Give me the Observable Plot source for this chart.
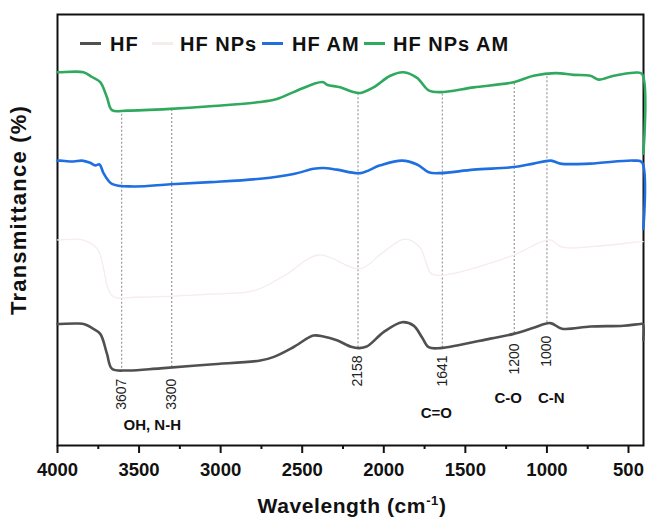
<!DOCTYPE html>
<html><head><meta charset="utf-8">
<script src="https://cdn.jsdelivr.net/npm/d3@7"></script>
<script src="https://cdn.jsdelivr.net/npm/@observablehq/plot@0.6"></script>
<style>body{margin:0;background:#fff;} #chart svg{display:block;}</style>
</head><body><div id="chart"></div>
<script>
// FTIR spectra: [wavenumber (cm-1), transmittance (a.u., offset)]
const hf = [[4000,28.2],[3983,28.2],[3880,28.3],[3830,28.1],[3790,27.3],[3738,25.9],[3697,21.3],[3666,17.8],[3574,17.4],[3370,17.9],[3064,18.8],[2757,19.7],[2678,20.5],[2555,22.8],[2432,25.5],[2371,25.3],[2287,24.4],[2200,22.9],[2150,22.6],[2103,23.0],[2001,26.3],[1888,28.6],[1817,27.8],[1766,25.1],[1725,22.8],[1654,22.6],[1551,23.2],[1347,24.8],[1204,25.9],[1082,27.3],[979,28.4],[908,27.1],[734,27.6],[530,27.8],[428,28.2],[412,28.2],[409,24.5]];
const hfNPs = [[4000,47.7],[3983,47.7],[3846,47.7],[3754,45.5],[3662,34.7],[3524,34.4],[3064,35.1],[2789,36.0],[2606,39.5],[2399,44.2],[2147,41.0],[2009,44.7],[1871,47.9],[1779,46.0],[1710,39.9],[1641,39.5],[1228,43.8],[982,47.7],[906,46.0],[654,46.4],[424,47.3],[410,47.3]];
const hfAM = [[4000,66.1],[3983,66.1],[3902,65.9],[3850,66.1],[3800,65.6],[3769,65.0],[3742,65.2],[3718,63.2],[3666,60.7],[3534,60.1],[3309,60.6],[3064,61.1],[2757,61.9],[2553,63.0],[2430,64.2],[2371,64.4],[2287,64.0],[2144,63.2],[2022,65.0],[1888,66.1],[1796,65.2],[1725,63.4],[1654,63.2],[1449,64.0],[1204,64.6],[1082,65.4],[975,66.1],[918,65.4],[734,65.4],[468,66.1],[417,65.7],[409,50.3]];
const hfNPsAM = [[4000,86.6],[3983,86.6],[3841,86.6],[3789,85.5],[3738,84.3],[3697,80.8],[3666,77.8],[3574,77.7],[3309,78.1],[3064,78.7],[2757,79.7],[2655,80.4],[2553,82.0],[2430,83.9],[2371,84.3],[2348,83.7],[2267,83.1],[2187,82.0],[2144,81.8],[2063,83.1],[1960,85.8],[1879,86.6],[1796,85.3],[1725,82.4],[1654,82.0],[1449,83.1],[1204,84.3],[1082,85.8],[949,86.4],[836,86.0],[734,85.8],[683,84.9],[591,85.8],[468,86.5],[417,86.2],[409,67.7]];

const seriesNames = ["HF", "HF NPs", "HF AM", "HF NPs AM"];
const seriesColors = ["#505050", "#f6ecec", "#1f6fe0", "#2fa95d"];
const seriesData = [hf, hfNPs, hfAM, hfNPsAM];

// band annotations: wavenumber, dashed-line top / bottom, label top
const bandWaves = [3607, 3300, 2158, 1641, 1200, 1000];
const bandTop = [77.7, 78.2, 82.0, 81.9, 84.2, 85.6];
const bandBottom = [17.9, 18.1, 22.7, 22.6, 26.0, 28.5];
const bandLabelTop = [15.5, 15.5, 20.9, 20.9, 23.7, 25.5];

const groupNames = ["OH, N-H", "C=O", "C-O", "C-N"];
const groupWaves = [3419, 1678, 1237, 973];
const groupY = [4.6, 7.4, 10.9, 10.9];

const majorTicks = [4000, 3500, 3000, 2500, 2000, 1500, 1000, 500];
const minorTicks = [3750, 3250, 2750, 2250, 1750, 1250, 750];

const rows = seriesData.flatMap((s, i) => s.map(([w, t]) => ({w, t, series: seriesNames[i]})))
  .sort((a, b) => a.w - b.w);
const bands = bandWaves.map((w, i) => ({w, top: bandTop[i], bottom: bandBottom[i], lab: bandLabelTop[i], text: String(w)}));
const groups = groupNames.map((n, i) => ({n, w: groupWaves[i], y: groupY[i]}));

const W = 647, H = 523, mL = 57, mR = 4, mT = 14, mB = 78;
const font = "Liberation Sans, Arial, sans-serif";

const chart = Plot.plot({
  width: W, height: H,
  marginLeft: mL, marginRight: mR, marginTop: mT, marginBottom: mB,
  style: {fontFamily: font, background: "#fff", color: "#111"},
  x: {domain: [4000, 408]},
  y: {domain: [0, 100], axis: null},
  marks: [
    Plot.ruleX(bands, {x: "w", y1: "bottom", y2: "top", stroke: "#9a9a9a", strokeWidth: 1.2, strokeDasharray: "2,2"}),
    Plot.frame({stroke: "#111", strokeWidth: 2}),
    Plot.axisX({ticks: majorTicks, tickSize: 8, tickPadding: 9, fontSize: 18.5, fontWeight: "bold", tickFormat: d => String(d), label: null, strokeWidth: 2, stroke: "#111", fill: "#111"}),
    Plot.axisX({ticks: minorTicks, tickSize: 4, tickFormat: () => "", label: null, strokeWidth: 2, stroke: "#111"}),
    ...seriesData.map((s, i) => Plot.line(rows.filter(r => r.series === seriesNames[i]), {
      x: "w", y: "t", stroke: seriesColors[i], strokeWidth: i === 1 ? 1.3 : 2.6, curve: "catmull-rom"
    })),
    Plot.text(bands, {x: "w", y: "lab", text: "text", rotate: -90, textAnchor: "end", fontSize: 14, fill: "#222"}),
    Plot.text(groups, {x: "w", y: "y", text: "n", fontSize: 15, fontWeight: "bold", fill: "#111"})
  ]
});

const svg = d3.select(chart);
// y-axis title
svg.append("text")
  .attr("transform", "translate(26,210) rotate(-90)")
  .attr("text-anchor", "middle")
  .attr("font-family", font).attr("font-weight", "bold").attr("font-size", 22).attr("letter-spacing", 1.2).attr("fill", "#111")
  .text("Transmittance (%)");
// x-axis title
const xt = svg.append("text")
  .attr("x", 352).attr("y", 513)
  .attr("text-anchor", "middle")
  .attr("font-family", font).attr("font-weight", "bold").attr("font-size", 21).attr("letter-spacing", 0.6).attr("fill", "#111");
xt.append("tspan").text("Wavelength (cm");
xt.append("tspan").attr("font-size", 13).attr("dy", -8).text("-1");
xt.append("tspan").attr("dy", 8).text(")");
// legend inside the frame
const legX = [80, 152, 262, 364];
const legTx = [110, 180, 292, 393];
const lg = svg.append("g").attr("font-family", font).attr("font-weight", "bold").attr("font-size", 20).attr("fill", "#111").attr("text-anchor", "start");
seriesNames.forEach((n, i) => {
  lg.append("line").attr("x1", legX[i]).attr("x2", legX[i] + 21).attr("y1", 43.5).attr("y2", 43.5)
    .attr("stroke", seriesColors[i]).attr("stroke-width", 3);
  lg.append("text").attr("x", legTx[i]).attr("y", 51).attr("text-anchor", "start").attr("letter-spacing", 1).text(n);
});

document.getElementById("chart").appendChild(chart);
</script>
</body></html>
